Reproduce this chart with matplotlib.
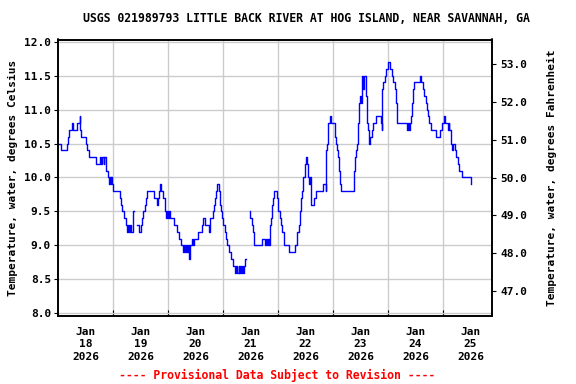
import numpy as np
import matplotlib
matplotlib.use("Agg")
import matplotlib.pyplot as plt

# hours since 2026-01-18 00:00, water temperature in deg C (step data, NaN = gap)
hours = [0.0, 1.2, 3.9, 4.4, 4.8, 6.2, 6.5, 8.4, 9.4, 9.7, 10.2, 12.1, 12.8, 13.4, 16.7,
         18.5, 18.9, 19.3, 19.9, 20.2, 20.8, 21.1, 21.8, 22.2, 22.5, 23.0, 23.3, 23.6, 24.0,
         26.9, 27.6, 28.1, 28.7, 29.5, 30.1, 30.7, 31.0, 31.6, 31.9, 32.7, 33.0,
         34.5, 35.3, 36.1, 36.7, 37.1, 37.8, 38.2, 38.7, 42.0, 43.1, 43.8, 44.1, 44.5, 44.8,
         46.0, 46.5, 46.7, 47.0, 47.6, 47.9, 48.5, 48.8, 50.8, 51.8, 53.0, 53.7, 54.4, 54.8,
         55.3, 55.7, 56.2, 56.6, 57.3, 57.6, 58.3, 58.8, 59.5, 61.2, 62.7, 63.4, 64.2, 66.0,
         66.3, 67.8, 68.2, 68.5, 69.0, 69.6, 70.4, 70.7, 71.1, 71.7, 72.2, 72.9, 73.3, 73.9,
         74.8, 75.5, 76.4, 77.4, 77.8, 78.2, 78.8, 79.2, 79.6, 80.0, 80.4, 80.8, 81.3, 81.7,
         82.0, 83.6, 83.9, 84.7, 85.1, 85.4, 85.7, 89.0, 90.5, 90.8, 91.2, 91.6, 92.1, 92.4,
         93.0, 93.4, 93.8, 94.1, 95.4, 96.0, 97.0, 97.5, 97.8, 98.5, 100.7, 103.6, 104.3,
         105.0, 105.8, 106.2, 106.5, 106.9, 107.6, 107.9, 108.2, 108.7, 109.1, 109.4, 109.8,
         110.4, 111.9, 112.7, 115.6, 116.8, 117.1, 117.4, 117.7, 117.8, 118.5, 119.2, 120.7,
         121.2, 121.6, 122.3, 122.6, 122.9, 123.5, 129.2, 129.5, 130.2, 130.6, 130.9, 131.4,
         131.7, 132.2, 132.5, 132.8, 133.1, 133.4, 134.3, 134.6, 134.7, 135.0, 135.3, 135.6,
         135.7, 136.0, 137.2, 137.6, 138.9, 140.8, 141.3, 141.5, 142.0, 142.6, 143.0, 143.9,
         144.9, 145.6, 146.3, 146.9, 147.4, 147.7, 147.9, 152.3, 152.8, 153.2, 153.8, 154.1,
         154.4, 154.7, 154.8, 155.1, 155.5, 157.9, 158.2, 159.5, 159.9, 160.6, 160.9, 161.4,
         161.8, 162.8, 165.0, 166.5, 166.6, 166.9, 167.6, 168.3, 169.1, 170.1, 170.5, 170.8,
         171.3, 171.5, 171.8, 172.3, 173.3, 173.7, 174.5, 175.2, 176.3, 180.4]
temp_c = [10.5, 10.4, 10.5, 10.6, 10.7, 10.8, 10.7, 10.8, 10.9, 10.7, 10.6, 10.5, 10.4, 10.3, 10.2,
          10.3, 10.2, 10.3, 10.2, 10.3, 10.2, 10.1, 10.0, 9.9, 10.0, 9.9, 10.0, 9.9, 9.8,
          9.7, 9.6, 9.5, 9.4, 9.3, 9.2, 9.3, 9.2, 9.3, 9.2, 9.5, np.nan,
          9.3, 9.2, 9.3, 9.4, 9.5, 9.6, 9.7, 9.8, 9.7, 9.6, 9.7, 9.8, 9.9, 9.8,
          9.7, 9.6, 9.5, 9.4, 9.5, 9.4, 9.5, 9.4, 9.3, 9.2, 9.1, 9.0, 8.9, 9.0,
          8.9, 9.0, 8.9, 9.0, 8.8, 9.0, 9.1, 9.0, 9.1, 9.2, 9.3, 9.4, 9.3, 9.2,
          9.4, 9.5, 9.6, 9.7, 9.8, 9.9, 9.8, 9.6, 9.5, 9.4, 9.3, 9.2, 9.1, 9.0,
          8.9, 8.8, 8.7, 8.6, 8.7, 8.6, 8.7, 8.6, 8.7, 8.6, 8.7, 8.6, 8.7, 8.8,
          np.nan, 9.5, 9.4, 9.3, 9.2, 9.1, 9.0, 9.1, 9.0, 9.1, 9.0, 9.1, 9.0, 9.3,
          9.4, 9.6, 9.7, 9.8, 9.7, 9.5, 9.4, 9.3, 9.2, 9.0, 8.9, 9.0, 9.2,
          9.3, 9.5, 9.7, 9.8, 10.0, 10.1, 10.2, 10.3, 10.2, 10.0, 9.9, 10.0,
          9.6, 9.7, 9.8, 9.9, 9.8, 10.4, 10.5, 10.6, 10.8, 10.9, 10.8, 10.6,
          10.5, 10.4, 10.3, 10.1, 9.9, 9.8, 10.1, 10.3, 10.4, 10.5, 10.8, 11.1,
          11.2, 11.1, 11.3, 11.5, 11.3, 11.5, 11.4, 11.2, 11.0, 10.8, 10.7, 10.6,
          10.5, 10.6, 10.7, 10.8, 10.9, 10.8, 10.7, 11.3, 11.4, 11.5, 11.6, 11.7,
          11.6, 11.5, 11.4, 11.3, 11.2, 11.1, 10.8, 10.7, 10.8, 10.7, 10.8, 10.9,
          11.0, 11.1, 11.2, 11.3, 11.4, 11.5, 11.4, 11.3, 11.2, 11.1, 11.0, 10.9,
          10.8, 10.7, 10.6, 10.7, 10.6, 10.7, 10.8, 10.9, 10.8, 10.7, 10.8, 10.7,
          10.6, 10.5, 10.4, 10.5, 10.4, 10.3, 10.2, 10.1, 10.0, 9.9]

day_labels = ["Jan\n18\n2026", "Jan\n19\n2026", "Jan\n20\n2026", "Jan\n21\n2026",
              "Jan\n22\n2026", "Jan\n23\n2026", "Jan\n24\n2026", "Jan\n25\n2026"]
c_ticks = [8.0, 8.5, 9.0, 9.5, 10.0, 10.5, 11.0, 11.5, 12.0]
f_ticks = [47.0, 48.0, 49.0, 50.0, 51.0, 52.0, 53.0]

FONT = "DejaVu Sans Mono"
fs = 8

fig = plt.figure(figsize=(5.76, 3.84), dpi=100)
ax = fig.add_axes([58/576, 1-315.5/384, (492-58)/576, (315.5-39.5)/384])

ax.plot(hours, temp_c, drawstyle="steps-post", color="#0000ff", lw=1.0)

ylo, yhi = 7.97, 12.03
ax.set_ylim(ylo, yhi)
ax.set_xlim(0, 189.4)

ax.set_yticks(c_ticks)
ax.set_yticklabels([f"{v:.1f}" for v in c_ticks], fontfamily=FONT, fontsize=fs, fontweight="bold")
ax.set_xticks([24*k for k in range(1, 8)])
ax.set_xticklabels([])
ax.set_xticks([24*k + 12 for k in range(8)], minor=True)
ax.set_xticklabels(day_labels, minor=True, fontfamily=FONT, fontsize=fs, fontweight="bold",
                   linespacing=1.35)
ax.tick_params(axis="x", which="minor", length=0, pad=8)
ax.tick_params(axis="x", which="major", length=4, direction="in")
ax.tick_params(axis="y", length=3, direction="out", pad=2)
ax.grid(True, which="major", color="#cccccc", lw=1.0)
ax.set_axisbelow(True)
for s in ax.spines.values():
    s.set_linewidth(1.2)

ax.set_ylabel("Temperature, water, degrees Celsius", fontfamily=FONT, fontsize=fs,
              fontweight="bold", labelpad=4)

ax2 = ax.twinx()
ax2.set_ylim(ylo*1.8+32, yhi*1.8+32)
ax2.set_yticks(f_ticks)
ax2.set_yticklabels([f"{v:.1f}" for v in f_ticks], fontfamily=FONT, fontsize=fs, fontweight="bold")
ax2.tick_params(axis="y", length=3, direction="out", pad=3)
ax2.set_ylabel("Temperature, water, degrees Fahrenheit", fontfamily=FONT, fontsize=fs,
               fontweight="bold", labelpad=14)
for s in ax2.spines.values():
    s.set_linewidth(1.2)

fig.text(306/576, 1-19/384, "USGS 021989793 LITTLE BACK RIVER AT HOG ISLAND, NEAR SAVANNAH, GA",
         ha="center", va="center", fontfamily=FONT, fontsize=8.3, fontweight="bold")
fig.text(277/576, 1-375/384, "---- Provisional Data Subject to Revision ----",
         ha="center", va="center", fontfamily=FONT, fontsize=8.3, fontweight="bold", color="red")

fig.savefig("out.png", dpi=100)
